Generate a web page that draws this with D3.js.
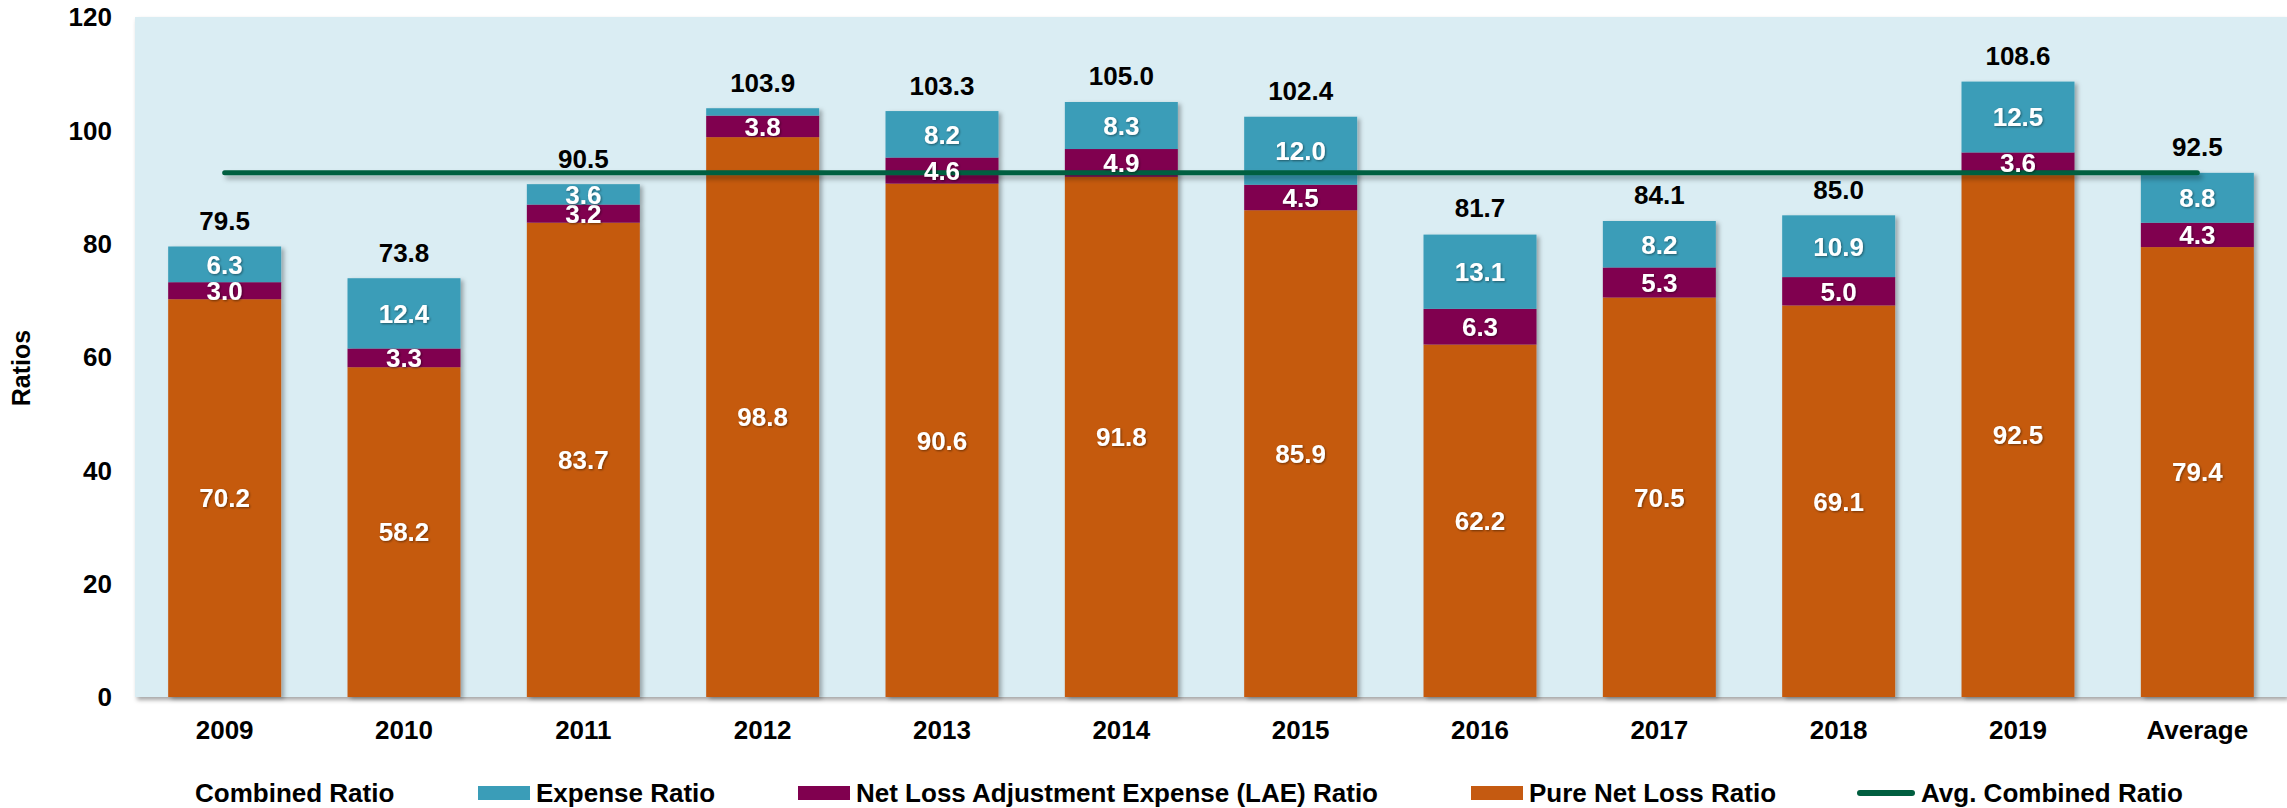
<!DOCTYPE html>
<html>
<head>
<meta charset="utf-8">
<script src="https://cdn.jsdelivr.net/npm/d3@7"></script>
<style>
  html, body { margin: 0; padding: 0; background: #fff; }
  svg { display: block; font-family: 'Liberation Sans', Arial, sans-serif; }
</style>
</head>
<body>
<div id="chart"></div>
<script>
const categories = ['2009', '2010', '2011', '2012', '2013', '2014', '2015', '2016', '2017', '2018', '2019', 'Average']
const pureLoss = [70.2, 58.2, 83.7, 98.8, 90.6, 91.8, 85.9, 62.2, 70.5, 69.1, 92.5, 79.4]
const lae = [3.0, 3.3, 3.2, 3.8, 4.6, 4.9, 4.5, 6.3, 5.3, 5.0, 3.6, 4.3]
const expense = [6.3, 12.4, 3.6, 1.3, 8.2, 8.3, 12.0, 13.1, 8.2, 10.9, 12.5, 8.8]
const combined = [79.5, 73.8, 90.5, 103.9, 103.3, 105.0, 102.4, 81.7, 84.1, 85.0, 108.6, 92.5]
const avgCombined = 92.5
const yTicks = [0, 20, 40, 60, 80, 100, 120]

const width = 2287
const height = 808
const marginTop = 17
const marginRight = 0
const marginBottom = 111
const marginLeft = 135

const series = [
  { key: 'pure', name: 'Pure Net Loss Ratio', values: pureLoss, color: '#C55A11' },
  { key: 'lae', name: 'Net Loss Adjustment Expense (LAE) Ratio', values: lae, color: '#80004F' },
  { key: 'expense', name: 'Expense Ratio', values: expense, color: '#3A9DB8' }
]
const lineColor = '#005E3F'

const rows = categories.map((c, i) => {
  const r = { cat: c }
  series.forEach(s => { r[s.key] = s.values[i] })
  return r
})

const stack = d3.stack().keys(series.map(s => s.key))(rows)

const x = d3.scaleBand()
  .domain(categories)
  .range([marginLeft, width - marginRight])
  .paddingInner(0.37)
  .paddingOuter(0.185)

const y = d3.scaleLinear()
  .domain([0, 120])
  .range([height - marginBottom, marginTop])

const svg = d3.select('#chart').append('svg')
  .attr('width', width)
  .attr('height', height)
  .attr('viewBox', [0, 0, width, height])

const defs = svg.append('defs')

const bgShadow = defs.append('filter').attr('id', 'bgShadow')
  .attr('x', '-5%').attr('y', '-5%').attr('width', '110%').attr('height', '115%')
bgShadow.append('feDropShadow')
  .attr('dx', 2).attr('dy', 3).attr('stdDeviation', 2)
  .attr('flood-color', '#000').attr('flood-opacity', 0.35)

const barShadow = defs.append('filter').attr('id', 'barShadow')
  .attr('x', '-10%').attr('y', '-10%').attr('width', '130%').attr('height', '130%')
barShadow.append('feDropShadow')
  .attr('dx', 3).attr('dy', 2).attr('stdDeviation', 2)
  .attr('flood-color', '#000').attr('flood-opacity', 0.3)

// a horizontal line has no height, so its filter needs a user space region
const lineShadow = defs.append('filter').attr('id', 'lineShadow')
  .attr('filterUnits', 'userSpaceOnUse')
  .attr('x', 0).attr('y', 0).attr('width', width).attr('height', height)
lineShadow.append('feDropShadow')
  .attr('dx', 3).attr('dy', 4).attr('stdDeviation', 2.5)
  .attr('flood-color', '#000').attr('flood-opacity', 0.3)

const textShadow = defs.append('filter').attr('id', 'textShadow')
textShadow.append('feDropShadow')
  .attr('dx', 1).attr('dy', 1).attr('stdDeviation', 1)
  .attr('flood-color', '#000').attr('flood-opacity', 0.45)

// plot background
svg.append('rect')
  .attr('x', marginLeft)
  .attr('y', marginTop)
  .attr('width', width - marginLeft - marginRight)
  .attr('height', height - marginBottom - marginTop)
  .attr('fill', '#DAEDF3')
  .attr('filter', 'url(#bgShadow)')

// stacked bars, one group per category so the shadow covers the whole column
const cols = svg.append('g')
  .selectAll('g')
  .data(categories)
  .join('g')
  .attr('filter', 'url(#barShadow)')

cols.selectAll('rect')
  .data((c, i) => stack.map((layer, k) => ({ k, y0: layer[i][0], y1: layer[i][1], cat: c })))
  .join('rect')
  .attr('x', d => x(d.cat))
  .attr('width', x.bandwidth())
  .attr('y', d => y(d.y1))
  .attr('height', d => y(d.y0) - y(d.y1))
  .attr('fill', d => series[d.k].color)

// average combined ratio line
svg.append('line')
  .attr('x1', x(categories[0]) + x.bandwidth() / 2)
  .attr('x2', x(categories[categories.length - 1]) + x.bandwidth() / 2)
  .attr('y1', y(avgCombined))
  .attr('y2', y(avgCombined))
  .attr('stroke', lineColor)
  .attr('stroke-width', 5)
  .attr('stroke-linecap', 'round')
  .attr('filter', 'url(#lineShadow)')

// segment labels
const segLabels = []
stack.forEach((layer, k) => {
  layer.forEach((d, i) => {
    const v = series[k].values[i]
    if (v >= 2) segLabels.push({ cat: categories[i], v, mid: (d[0] + d[1]) / 2 })
  })
})

svg.append('g')
  .selectAll('text')
  .data(segLabels)
  .join('text')
  .attr('x', d => x(d.cat) + x.bandwidth() / 2)
  .attr('y', d => y(d.mid))
  .attr('dy', '0.36em')
  .attr('text-anchor', 'middle')
  .attr('fill', '#fff')
  .attr('font-size', 26)
  .attr('font-weight', 'bold')
  .attr('filter', 'url(#textShadow)')
  .text(d => d.v.toFixed(1))

// total labels
svg.append('g')
  .selectAll('text')
  .data(categories)
  .join('text')
  .attr('x', c => x(c) + x.bandwidth() / 2)
  .attr('y', (c, i) => y(combined[i]) - 26)
  .attr('dy', '0.36em')
  .attr('text-anchor', 'middle')
  .attr('fill', '#000')
  .attr('font-size', 26)
  .attr('font-weight', 'bold')
  .text((c, i) => combined[i].toFixed(1))

// y axis labels
svg.append('g')
  .selectAll('text')
  .data(yTicks)
  .join('text')
  .attr('x', 112)
  .attr('y', d => y(d))
  .attr('dy', '0.36em')
  .attr('text-anchor', 'end')
  .attr('font-size', 26)
  .attr('font-weight', 'bold')
  .text(d => d)

svg.append('text')
  .attr('transform', `translate(21, 368) rotate(-90)`)
  .attr('dy', '0.36em')
  .attr('text-anchor', 'middle')
  .attr('font-size', 25)
  .attr('font-weight', 'bold')
  .text('Ratios')

// x axis labels
svg.append('g')
  .selectAll('text')
  .data(categories)
  .join('text')
  .attr('x', c => x(c) + x.bandwidth() / 2)
  .attr('y', 730)
  .attr('dy', '0.36em')
  .attr('text-anchor', 'middle')
  .attr('font-size', 26)
  .attr('font-weight', 'bold')
  .text(c => c)

// legend
const legendItems = [
  { name: 'Combined Ratio', type: 'none' },
  { name: 'Expense Ratio', type: 'rect', color: series[2].color },
  { name: 'Net Loss Adjustment Expense (LAE) Ratio', type: 'rect', color: series[1].color },
  { name: 'Pure Net Loss Ratio', type: 'rect', color: series[0].color },
  { name: 'Avg. Combined Ratio', type: 'line', color: lineColor }
]
const legendX = [195, 478, 798, 1471, 1857]

const legend = svg.append('g')
const ly = 793
legendItems.forEach((item, i) => {
  let lx = legendX[i]
  if (item.type === 'rect') {
    legend.append('rect')
      .attr('x', lx).attr('y', ly - 7)
      .attr('width', 52).attr('height', 14)
      .attr('fill', item.color)
    lx += 58
  } else if (item.type === 'line') {
    legend.append('line')
      .attr('x1', lx + 3).attr('x2', lx + 55)
      .attr('y1', ly).attr('y2', ly)
      .attr('stroke', item.color)
      .attr('stroke-width', 6)
      .attr('stroke-linecap', 'round')
    lx += 64
  }
  legend.append('text')
    .attr('x', lx)
    .attr('y', ly)
    .attr('dy', '0.36em')
    .attr('font-size', 26)
    .attr('font-weight', 'bold')
    .text(item.name)
})
</script>
</body>
</html>
